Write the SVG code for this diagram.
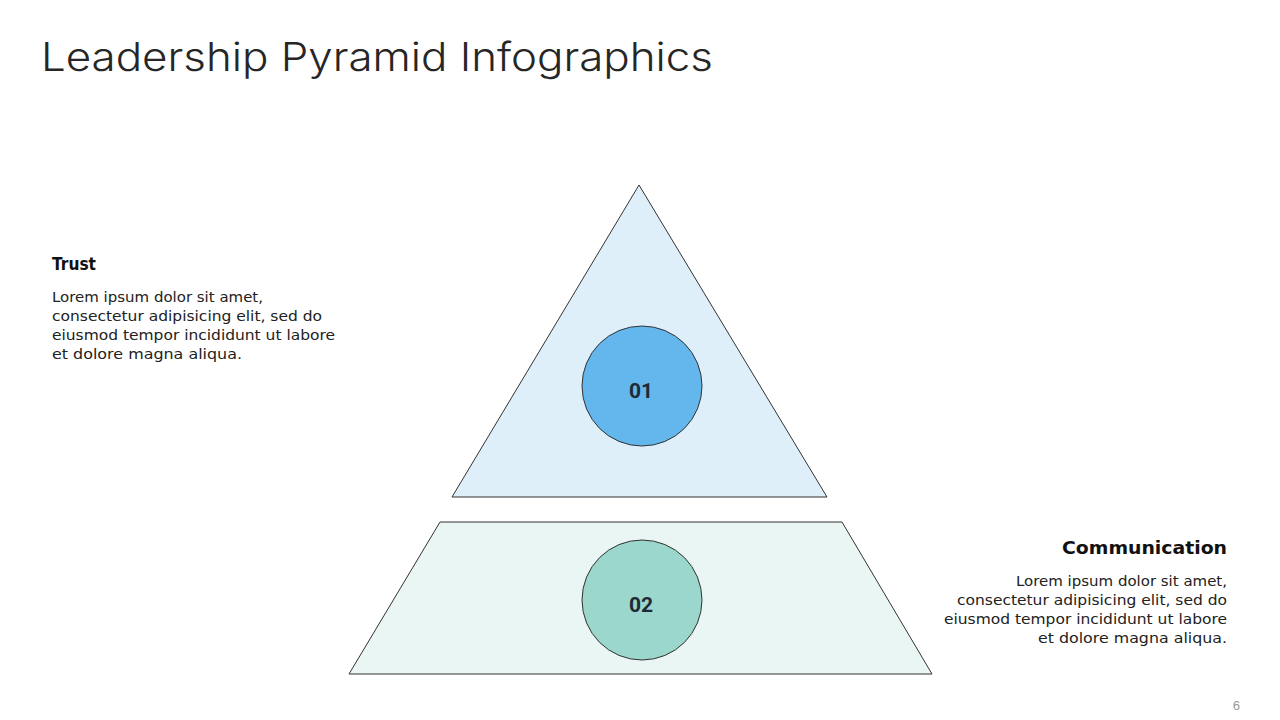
<svg xmlns="http://www.w3.org/2000/svg" width="1280" height="720" viewBox="0 0 1280 720">
<style>
.title{font-family:Inter,"DejaVu Sans",sans-serif;font-size:39px;font-weight:300;fill:#262626}
.head{font-family:"DejaVu Sans","Liberation Sans",sans-serif;font-size:17px;font-weight:bold;fill:#111}
.body{font-family:"DejaVu Sans","Liberation Sans",sans-serif;font-size:14.5px;fill:#222}
.num{font-family:Roboto,"Liberation Sans",sans-serif;font-size:21px;font-weight:bold;fill:#1e2a36;text-anchor:middle}
.shape{stroke:#333;stroke-width:1}
</style>
<rect width="1280" height="720" fill="#fff"/>
<text class="title" x="41" y="71" textLength="672" lengthAdjust="spacingAndGlyphs">Leadership Pyramid Infographics</text>
<g id="level1">
<polygon class="shape" points="639,185 827,497 452,497" fill="#dfeffa"/>
<circle class="shape" cx="642" cy="386" r="60" fill="#64b7ed"/>
<text class="num" x="641" y="398">01</text>
</g>
<g id="level2">
<polygon class="shape" points="440,522 842,522 932,674 349,674" fill="#eaf6f3"/>
<circle class="shape" cx="642" cy="600" r="60" fill="#9bd7cc"/>
<text class="num" x="641" y="612">02</text>
</g>
<g id="text-trust">
<text class="head" x="52" y="270" textLength="44" lengthAdjust="spacingAndGlyphs">Trust</text>
<text class="body" x="52" y="302" textLength="211" lengthAdjust="spacingAndGlyphs">Lorem ipsum dolor sit amet,</text>
<text class="body" x="52" y="321" textLength="270" lengthAdjust="spacingAndGlyphs">consectetur adipisicing elit, sed do</text>
<text class="body" x="52" y="340" textLength="283" lengthAdjust="spacingAndGlyphs">eiusmod tempor incididunt ut labore</text>
<text class="body" x="52" y="359" textLength="190" lengthAdjust="spacingAndGlyphs">et dolore magna aliqua.</text>
</g>
<g id="text-communication" text-anchor="end">
<text class="head" x="1227" y="554" textLength="165" lengthAdjust="spacingAndGlyphs">Communication</text>
<text class="body" x="1227" y="586" textLength="211" lengthAdjust="spacingAndGlyphs">Lorem ipsum dolor sit amet,</text>
<text class="body" x="1227" y="605" textLength="270" lengthAdjust="spacingAndGlyphs">consectetur adipisicing elit, sed do</text>
<text class="body" x="1227" y="624" textLength="283" lengthAdjust="spacingAndGlyphs">eiusmod tempor incididunt ut labore</text>
<text class="body" x="1227" y="643" textLength="189" lengthAdjust="spacingAndGlyphs">et dolore magna aliqua.</text>
</g>
<g id="connectors"></g>
<text x="1240" y="710" font-family="Liberation Sans,Arial,sans-serif" font-size="13" fill="#999" text-anchor="end">6</text>
</svg>
